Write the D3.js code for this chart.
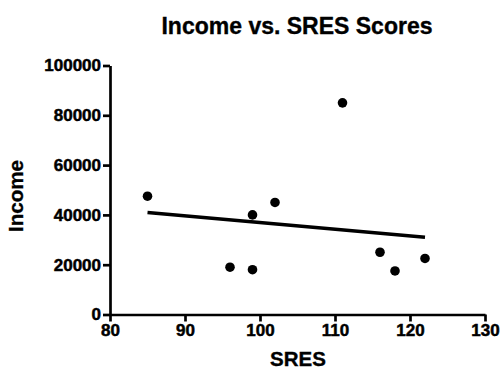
<!DOCTYPE html>
<html>
<head>
<meta charset="utf-8">
<script src="https://cdn.jsdelivr.net/npm/d3@7"></script>
<style>
  body { margin: 0; background: #fff; }
  text { font-family: "Liberation Sans", Arial, sans-serif; font-weight: bold; fill: #000; stroke: #000; stroke-width: 0.35px; }
</style>
</head>
<body>
<script>
// Data
const sres = [85, 96, 99, 99, 102, 111, 116, 118, 122];
const income = [47500, 19000, 18000, 40000, 45000, 85000, 25000, 17500, 22500];
const xTicks = [80, 90, 100, 110, 120, 130];
const yTicks = [0, 20000, 40000, 60000, 80000, 100000];

const width = 502;
const height = 373;
const margin = { top: 65.5, right: 17, bottom: 58.5, left: 110 };

const svg = d3.select("body").append("svg")
    .attr("width", width)
    .attr("height", height);

const x = d3.scaleLinear().domain([80, 130]).range([margin.left, width - margin.right]);
const y = d3.scaleLinear().domain([0, 100000]).range([height - margin.bottom, margin.top]);

// Linear regression line over the points
const mx = d3.mean(sres), my = d3.mean(income);
const sxy = d3.sum(sres, (d, i) => (d - mx) * (income[i] - my));
const sxx = d3.sum(sres, d => (d - mx) * (d - mx));
const slope = sxy / sxx;
const intercept = my - slope * mx;
const [xMin, xMax] = d3.extent(sres);

svg.append("line")
    .attr("x1", x(xMin)).attr("y1", y(intercept + slope * xMin))
    .attr("x2", x(xMax)).attr("y2", y(intercept + slope * xMax))
    .attr("stroke", "#000")
    .attr("stroke-width", 3.4);

// Points
svg.selectAll("circle")
    .data(sres)
    .enter()
    .append("circle")
    .attr("cx", d => x(d))
    .attr("cy", (d, i) => y(income[i]))
    .attr("r", 4.8)
    .attr("fill", "#000");

// Axes
const xAxis = svg.append("g")
    .attr("transform", `translate(0, ${y(0)})`)
    .call(d3.axisBottom(x).tickValues(xTicks).tickSize(7).tickPadding(2).tickSizeOuter(0));

const yAxis = svg.append("g")
    .attr("transform", `translate(${x(80)}, 0)`)
    .call(d3.axisLeft(y).tickValues(yTicks).tickFormat(d3.format("d")).tickSize(7).tickPadding(2).tickSizeOuter(0));

[xAxis, yAxis].forEach(g => {
    g.select(".domain").attr("stroke", "#000").attr("stroke-width", 2.7);
    g.selectAll(".tick line").attr("stroke", "#000").attr("stroke-width", 2.7);
    g.selectAll(".tick text")
        .attr("fill", "#000")
        .style("font-size", "17px")
        .style("font-family", "'Liberation Sans', Arial, sans-serif")
        .style("font-weight", "bold")
        .style("stroke", "#000")
        .style("stroke-width", "0.5px");
});

// Title and axis labels
svg.append("text")
    .attr("x", 297)
    .attr("y", 34)
    .style("text-anchor", "middle")
    .style("font-size", "23px")
    .text("Income vs. SRES Scores");

svg.append("text")
    .attr("x", 298)
    .attr("y", 366)
    .style("text-anchor", "middle")
    .style("font-size", "20.5px")
    .text("SRES");

svg.append("text")
    .attr("transform", "rotate(-90)")
    .attr("x", -196)
    .attr("y", 23)
    .style("text-anchor", "middle")
    .style("font-size", "20.5px")
    .text("Income");
</script>
</body>
</html>
